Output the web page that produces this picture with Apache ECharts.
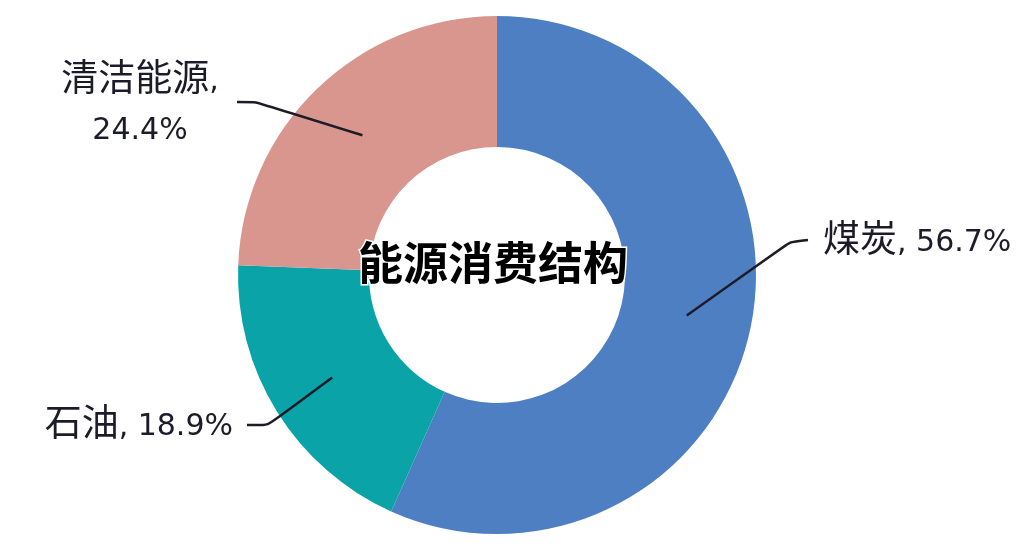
<!DOCTYPE html>
<html>
<head>
<meta charset="utf-8">
<script src="https://cdn.jsdelivr.net/npm/echarts@6/dist/echarts.min.js"></script>
<style>
  html, body { margin: 0; padding: 0; background: #fff; }
  #chart { width: 1036px; height: 544px; }
</style>
</head>
<body>
<div id="chart"></div>
<script>
// energy consumption structure (%)
const names = ['煤炭', '石油', '清洁能源'];
const values = [56.7, 18.9, 24.4];
const colors = ['#4f7fc3', '#0aa4a8', '#d9968f'];
const TITLE = '能源消费结构';

const CENTER = [497, 275];
const CJK = '"Noto Sans CJK SC", sans-serif';
const LATIN = '"DejaVu Sans", "Noto Sans CJK SC", sans-serif';
const INK = '#1c1b28';

// where each label sits and how its leader line bends (page px)
const LABEL_POS = [
  { x: 823, y: 238, align: 'left',   bend: [790, 242], end: [808, 240] },
  { x: 233, y: 422, align: 'right',  bend: [268, 425], end: [247, 425] },
  { x: 140, y: 104, align: 'center', bend: [256, 102], end: [237, 102] }
];

let chart = echarts.init(document.getElementById('chart'));

let data = names.map((name, i) => ({ name, value: values[i] }));

chart.setOption({
  animation: false,
  graphic: [{
    type: 'text', x: 493, y: 263, z: 100,
    style: {
      text: TITLE, align: 'center', verticalAlign: 'middle',
      font: 'bold 45px ' + CJK, fill: '#000',
      stroke: '#fff', lineWidth: 3
    }
  }],
  series: [
    {
      type: 'pie', center: CENTER, radius: [128, 259],
      startAngle: 90, clockwise: true, silent: true,
      label: { show: false }, labelLine: { show: false },
      data: data.map((d, i) => ({ ...d, itemStyle: { color: colors[i] } }))
    },
    {
      // invisible helper ring: its outer edge is where leader lines start
      type: 'pie', center: CENTER, radius: [0, 194], z: 5,
      startAngle: 90, clockwise: true, silent: true,
      itemStyle: { color: 'rgba(0,0,0,0)' },
      label: {
        show: true, position: 'outside', color: INK,
        formatter: p => p.dataIndex === 2
          ? `{cn|${p.name}}{en|,}\n{num|${p.value}%}`
          : `{cn|${p.name}}{en|, ${p.value}%}`,
        rich: {
          cn: { fontFamily: CJK, fontSize: 37, lineHeight: 55, color: INK },
          // bottom-aligned box drops the digits onto the CJK baseline
          en: { fontFamily: LATIN, fontSize: 30, lineHeight: 55, height: 45, verticalAlign: 'bottom', color: INK },
          num: { fontFamily: LATIN, fontSize: 30, lineHeight: 55, color: INK }
        }
      },
      labelLine: { show: true, smooth: 0.15, lineStyle: { color: INK, width: 2.5 } },
      labelLayout: p => {
        let pos = LABEL_POS[p.dataIndex];
        let start = p.labelLinePoints ? p.labelLinePoints[0] : pos.bend;
        return {
          x: pos.x, y: pos.y, align: pos.align, verticalAlign: 'middle',
          labelLinePoints: [start, pos.bend, pos.end]
        };
      },
      data: data
    }
  ]
});
</script>
</body>
</html>
